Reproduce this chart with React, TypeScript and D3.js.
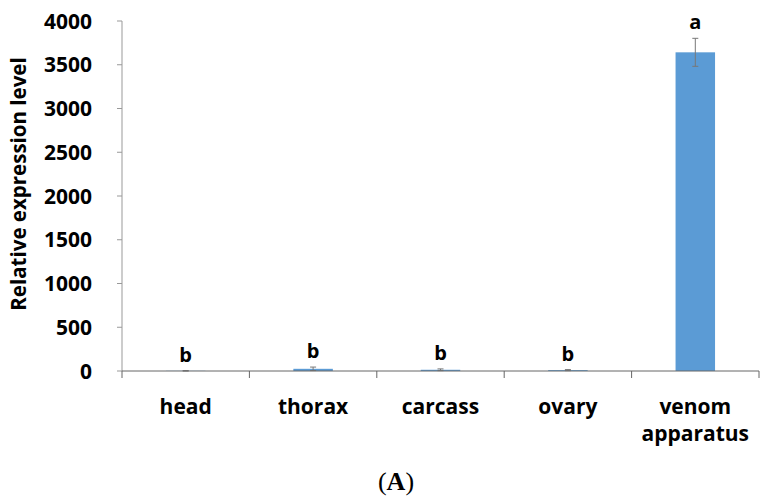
import React from 'react';
import * as d3 from 'd3';

const categories = ['head', 'thorax', 'carcass', 'ovary', 'venom apparatus'];
const values = [2, 25, 14, 10, 3642];
const errors = [2, 20, 10, 6, 160];
const letters = ['b', 'b', 'b', 'b', 'a'];
const yTicks = [0, 500, 1000, 1500, 2000, 2500, 3000, 3500, 4000];

const W = 771;
const H = 502;
const margin = { top: 21, right: 12, bottom: 131, left: 122 };
const font = "'Open Sans', 'Liberation Sans', sans-serif";

const App: React.FC = () => {
  const innerW = W - margin.left - margin.right;
  const innerH = H - margin.top - margin.bottom;

  const x = d3.scaleBand<string>()
    .domain(categories)
    .range([0, innerW])
    .paddingInner(0.69)
    .paddingOuter(0.345);

  const band = innerW / categories.length;

  const y = d3.scaleLinear()
    .domain([0, 4000])
    .range([innerH, 0]);

  return (
    <svg width={W} height={H} style={{ position: 'absolute', left: 0, top: 0, background: 'white' }}>
      <g transform={`translate(${margin.left},${margin.top})`}>
        {/* y axis */}
        <line x1={0} x2={0} y1={0} y2={innerH} stroke="#999" strokeWidth={1} />
        {yTicks.map(t => (
          <g key={t} transform={`translate(0,${y(t)})`}>
            <line x1={-5} x2={0} stroke="#999" />
            <text
              x={-30}
              dy="0.36em"
              textAnchor="end"
              fontFamily={font}
              fontWeight="bold"
              fontSize={21}
              fill="#000"
            >
              {t}
            </text>
          </g>
        ))}
        <text
          transform={`translate(-103,${innerH / 2 - 12}) rotate(-90)`}
          textAnchor="middle"
          dy="0.35em"
          fontFamily={font}
          fontWeight="bold"
          fontSize={20.5}
          fill="#000"
        >
          Relative expression level
        </text>

        {/* bars */}
        {categories.map((c, i) => {
          const bx = x(c) as number;
          const cx = bx + x.bandwidth() / 2;
          const top = y(values[i]);
          const eTop = y(values[i] + errors[i]);
          const eBot = y(Math.max(0, values[i] - errors[i]));
          return (
            <g key={c}>
              <rect x={bx} y={top} width={x.bandwidth()} height={innerH - top} fill="#5B9BD5" />
              <line x1={cx} x2={cx} y1={eTop} y2={eBot} stroke="#777" strokeWidth={1} />
              <line x1={cx - 3} x2={cx + 3} y1={eTop} y2={eTop} stroke="#777" strokeWidth={1} />
              <line x1={cx - 3} x2={cx + 3} y1={eBot} y2={eBot} stroke="#777" strokeWidth={1} />
              <text
                x={cx}
                y={eTop - 9}
                textAnchor="middle"
                fontFamily={font}
                fontWeight="bold"
                fontSize={20}
                fill="#000"
              >
                {letters[i]}
              </text>
            </g>
          );
        })}

        {/* x axis */}
        <line x1={0} x2={innerW} y1={innerH} y2={innerH} stroke="#666" strokeWidth={1} />
        {d3.range(categories.length + 1).map(k => (
          <line
            key={k}
            x1={k * band}
            x2={k * band}
            y1={innerH}
            y2={innerH + 7}
            stroke="#666"
          />
        ))}
        {categories.map(c => {
          const cx = (x(c) as number) + x.bandwidth() / 2;
          const parts = c.split(' ');
          return (
            <text
              key={c}
              x={cx}
              y={innerH + 43}
              textAnchor="middle"
              fontFamily={font}
              fontWeight="bold"
              fontSize={21}
              fill="#000"
            >
              {parts.map((p, j) => (
                <tspan key={p} x={cx} dy={j === 0 ? 0 : 27}>{p}</tspan>
              ))}
            </text>
          );
        })}
      </g>
      <text
        x={396}
        y={490}
        textAnchor="middle"
        fontFamily="'Liberation Serif', 'Times New Roman', serif"
        fontSize={26}
        fill="#000"
      >
        (<tspan fontWeight="bold">A</tspan>)
      </text>
    </svg>
  );
};

export default App;
